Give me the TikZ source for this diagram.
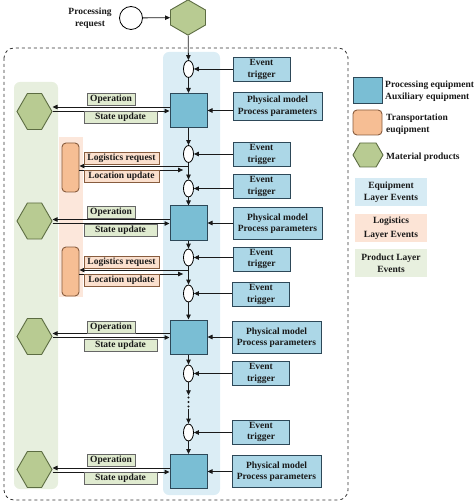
\documentclass[tikz,border=0pt]{standalone}
\usepackage{fontspec}
\setmainfont{Liberation Serif}
\usetikzlibrary{shapes.geometric,shapes.symbols,arrows.meta}
\definecolor{sqblue}{RGB}{122,190,212}
\definecolor{evblue}{RGB}{172,215,231}
\definecolor{bordblue}{RGB}{45,72,88}
\definecolor{colblue}{RGB}{219,237,245}
\definecolor{colgreen}{RGB}{231,239,222}
\definecolor{colorange}{RGB}{252,231,219}
\definecolor{hexgreen}{RGB}{184,203,146}
\definecolor{hexbord}{RGB}{92,108,66}
\definecolor{orangebox}{RGB}{246,190,148}
\definecolor{orangebord}{RGB}{135,92,62}
\definecolor{lblgreen}{RGB}{224,235,208}
\definecolor{lblorange}{RGB}{251,224,206}
\definecolor{legblue}{RGB}{214,235,244}
\definecolor{legorange}{RGB}{252,228,214}
\definecolor{leggreen}{RGB}{232,240,223}
\definecolor{txt}{RGB}{25,25,25}
\tikzset{
  every node/.style={text=txt, font=\bfseries\fontsize{9.5}{11.5}\selectfont},
  arr/.style={-{Triangle[length=5pt,width=4.5pt]}, line width=0.8pt, draw=black!90},
  evbox/.style={draw=bordblue, fill=evblue, line width=0.9pt, minimum width=57pt, minimum height=24pt, inner sep=1pt, align=center},
  pmbox/.style={draw=bordblue, fill=evblue, line width=0.9pt, minimum width=89pt, minimum height=32pt, inner sep=1pt, align=center},
  sqbox/.style={draw=bordblue, fill=sqblue, line width=1pt, minimum width=37pt, minimum height=34pt, inner sep=0pt},
  evnode/.style={draw=black, fill=white, ellipse, line width=0.8pt, minimum width=10pt, minimum height=17pt, inner sep=0pt},
  hexh/.style={shape=signal, signal to=east and west, signal pointer angle=120, draw=hexbord, fill=hexgreen, line width=0.9pt, minimum width=35pt, minimum height=36pt, inner sep=0pt},
  hexv/.style={shape=signal, signal to=north and south, signal pointer angle=120, draw=hexbord, fill=hexgreen, line width=0.9pt, minimum width=35pt, minimum height=15pt, inner sep=0pt},
  oplabel/.style={draw=black!60, fill=lblgreen, line width=0.8pt, minimum height=12pt, inner sep=1pt},
  lglabel/.style={draw=orangebord, fill=lblorange, line width=0.8pt, minimum height=12pt, minimum width=75pt, inner sep=1pt},
  obox/.style={draw=orangebord, fill=orangebox, rounded corners=4pt, line width=0.9pt, minimum width=17pt, minimum height=49pt, inner sep=0pt},
  legbox/.style={minimum width=72pt, minimum height=28pt, align=center, inner sep=1pt},
  legtxt/.style={anchor=west, align=left, inner sep=0pt}
}
\begin{document}
\begin{tikzpicture}[x=1pt,y=-1pt]
\useasboundingbox (0,0) rectangle (474,502);
% backgrounds
\fill[colblue, rounded corners=6pt] (163,52) rectangle (220,495);
\fill[colgreen, rounded corners=6pt] (14,82) rectangle (58,489);
\fill[colorange] (59,137) rectangle (83,297);
\draw[dashed, line width=0.8pt, rounded corners=10pt, black!80] (4,48) rectangle (348,500);

% top
\node[align=center] (preq) at (90,18) {Processing\\request};
\node[circle, draw=black, fill=white, line width=0.8pt, minimum size=23pt, inner sep=0pt] (c0) at (131,18) {};
\node[hexv] (h0) at (188,17.5) {};
\draw[arr] (c0) -- (h0);

% central chain
\node[evnode] (e1) at (188.5,69) {};
\node[sqbox] (sq1) at (188.5,110.5) {};
\node[evnode] (e2) at (188.5,154) {};
\node[evnode] (e3) at (188.5,188.5) {};
\node[sqbox] (sq2) at (188.5,223) {};
\node[evnode] (e4) at (188.5,257.5) {};
\node[evnode] (e5) at (188.5,293.5) {};
\node[sqbox] (sq3) at (188.5,337) {};
\node[evnode] (e6) at (188.5,373.5) {};
\node[inner sep=0pt, minimum width=4pt, minimum height=13pt] (dots) at (188.5,402) {};
\foreach \d in {-4.5,0,4.5} \fill[black!90] ([yshift=\d pt]dots.center) circle (1.1pt);
\node[evnode] (e7) at (188.5,432.5) {};
\node[sqbox] (sq4) at (188.5,471.5) {};

\draw[arr] (h0) -- (e1);
\draw[arr] (e1) -- (sq1);
\draw[arr] (sq1) -- (e2);
\draw[arr] (e2) -- (e3);
\draw[arr] (e3) -- (sq2);
\draw[arr] (sq2) -- (e4);
\draw[arr] (e4) -- (e5);
\draw[arr] (e5) -- (sq3);
\draw[arr] (sq3) -- (e6);
\draw[arr] (e6) -- (dots);
\draw[arr] (dots) -- (e7);
\draw[arr] (e7) -- (sq4);

% right boxes
\node[evbox] (et1) at (261.5,69.5) {Event\\trigger};
\node[pmbox, minimum height=28pt] (pm1) at (277.5,106) {Physical model\\Process parameters};
\node[evbox] (et2) at (261.5,154.5) {Event\\trigger};
\node[evbox] (et3) at (261.5,186.5) {Event\\trigger};
\node[pmbox] (pm2) at (277.5,223.5) {Physical model\\Process parameters};
\node[evbox] (et4) at (261.5,259) {Event\\trigger};
\node[evbox] (et5) at (261,294.5) {Event\\trigger};
\node[pmbox] (pm3) at (276.5,337.5) {Physical model\\Process parameters};
\node[evbox] (et6) at (261,373.5) {Event\\trigger};
\node[evbox] (et7) at (261,432) {Event\\trigger};
\node[pmbox] (pm4) at (276.5,471.5) {Physical model\\Process parameters};

\foreach \a/\b in {et1/e1,et2/e2,et3/e3,et4/e4,et5/e5,et6/e6,et7/e7,pm1/sq1,pm2/sq2,pm3/sq3,pm4/sq4}
  \draw[arr] (\a.west |- \b.center) -- (\b);

% product layer
\node[hexh] (hex1) at (34.5,111.5) {};
\node[hexh] (hex2) at (34.5,221) {};
\node[hexh] (hex3) at (34.5,336.5) {};
\node[hexh] (hex4) at (34.5,469.5) {};
\foreach \s/\h/\n in {sq1/hex1/1,sq2/hex2/2,sq3/hex3/3,sq4/hex4/4}{
  \draw[arr] ([yshift=3.5pt]\s.west) -- ([yshift=3.5pt]\s.west -| \h.east);
  \draw[arr] ([yshift=-0.5pt]\s.west -| \h.east) -- ([yshift=-0.5pt]\s.west);
}
\node[oplabel, minimum width=48pt] (op1) at (111,99.5) {Operation};
\node[oplabel, minimum width=73pt] (su1) at (120.5,117.5) {State update};
\node[oplabel, minimum width=48pt] (op2) at (111,212) {Operation};
\node[oplabel, minimum width=73pt] (su2) at (120.5,230) {State update};
\node[oplabel, minimum width=48pt] (op3) at (111,327.5) {Operation};
\node[oplabel, minimum width=73pt] (su3) at (120.5,345.5) {State update};
\node[oplabel, minimum width=48pt] (op4) at (111,460.5) {Operation};
\node[oplabel, minimum width=73pt] (su4) at (120.5,478) {State update};

% logistics layer
\node[obox] (ob1) at (70.5,167.5) {};
\node[obox] (ob2) at (70.5,271.5) {};
\foreach \o in {ob1,ob2}{
  \draw[arr] ([yshift=1.5pt]\o.east -| e2.center) -- ([yshift=1.5pt]\o.east);
  \draw[arr] ([yshift=-2.5pt]\o.east) -- ([yshift=-2.5pt]\o.east -| e2.west);
}
\node[lglabel] (lr1) at (121.5,158) {Logistics request};
\node[lglabel] (lu1) at (121.5,176) {Location update};
\node[lglabel] (lr2) at (121.5,262.5) {Logistics request};
\node[lglabel] (lu2) at (121.5,280) {Location update};

% legend
\node[draw=bordblue, fill=sqblue, line width=0.9pt, minimum width=29pt, minimum height=26pt, inner sep=0pt] (lg1) at (367.5,90) {};
\node[legtxt] (lt1) at (385,91) {Processing equipment\\Auxiliary equipment};
\node[obox, minimum width=29pt, minimum height=25pt] (lg2) at (367.5,122.5) {};
\node[legtxt] (lt2) at (386,124) {Transportation\\euqipment};
\node[hexh, minimum width=30pt, minimum height=24pt] (lg3) at (368,155) {};
\node[legtxt] (lt3) at (386,157) {Material products};
\node[legbox, fill=legblue] (lb1) at (391,192) {Equipment\\Layer Events};
\node[legbox, fill=legorange] (lb2) at (391,228) {Logistics\\[2pt]Layer Events};
\node[legbox, fill=leggreen] (lb3) at (391,263) {Product Layer\\Events};
\end{tikzpicture}
\end{document}
